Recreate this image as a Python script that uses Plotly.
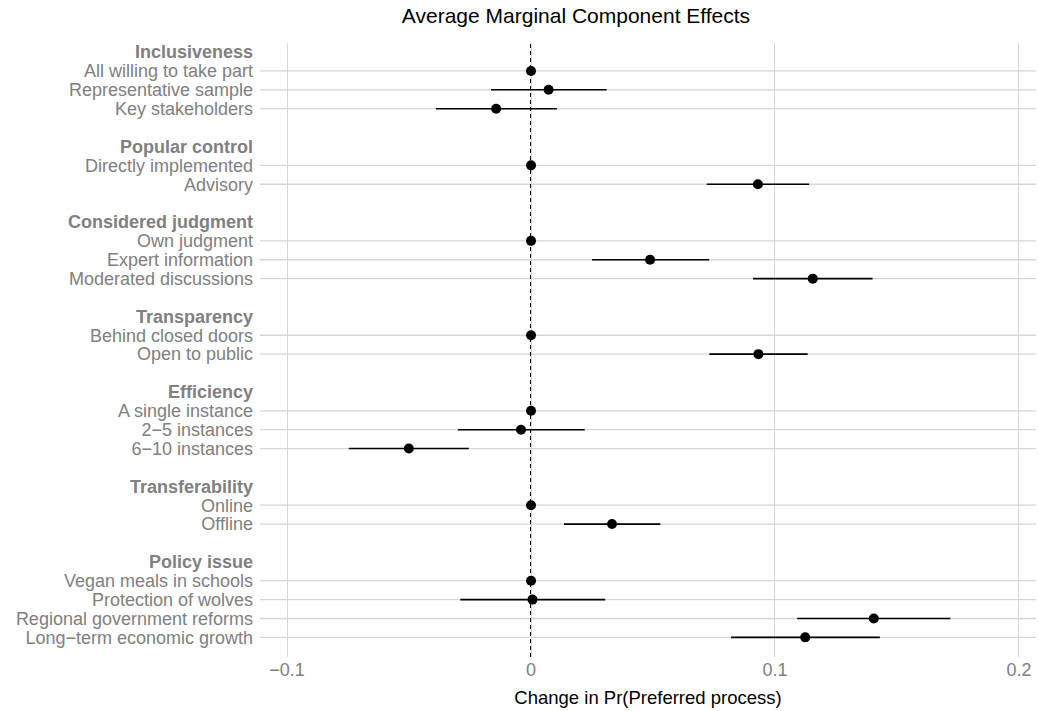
import plotly.graph_objects as go

title_text = "Average Marginal Component Effects"
x_title = "Change in Pr(Preferred process)"

groups = ["Inclusiveness", "Popular control", "Considered judgment",
          "Transparency", "Efficiency", "Transferability", "Policy issue"]

levels = [
    ["All willing to take part", "Representative sample", "Key stakeholders"],
    ["Directly implemented", "Advisory"],
    ["Own judgment", "Expert information", "Moderated discussions"],
    ["Behind closed doors", "Open to public"],
    ["A single instance", "2−5 instances", "6−10 instances"],
    ["Online", "Offline"],
    ["Vegan meals in schools", "Protection of wolves",
     "Regional government reforms", "Long−term economic growth"],
]

estimates = [
    [0.0, 0.0072, -0.0143],
    [0.0, 0.0930],
    [0.0, 0.0488, 0.1155],
    [0.0, 0.0932],
    [0.0, -0.0041, -0.0501],
    [0.0, 0.0332],
    [0.0, 0.0006, 0.1405, 0.1124],
]
lower = [
    [0.0, -0.0164, -0.0390],
    [0.0, 0.0720],
    [0.0, 0.0250, 0.0910],
    [0.0, 0.0731],
    [0.0, -0.0300, -0.0747],
    [0.0, 0.0135],
    [0.0, -0.0290, 0.1091, 0.0820],
]
upper = [
    [0.0, 0.0310, 0.0106],
    [0.0, 0.1140],
    [0.0, 0.0730, 0.1400],
    [0.0, 0.1134],
    [0.0, 0.0220, -0.0255],
    [0.0, 0.0530],
    [0.0, 0.0304, 0.1719, 0.1430],
]

x_ticks = [-0.1, 0.0, 0.1, 0.2]
x_tick_labels = ["−0.1", "0", "0.1", "0.2"]
x_range = [-0.1111, 0.2070]
ref_value = 0.0

# build row structure
row_labels = []
item_rows, item_x, item_minus, item_plus = [], [], [], []
for gi, g in enumerate(groups):
    row_labels.append("<b>" + g + "</b>")
    for li, lab in enumerate(levels[gi]):
        r = len(row_labels)
        row_labels.append(lab)
        item_rows.append(r)
        e = estimates[gi][li]
        item_x.append(e)
        item_minus.append(e - lower[gi][li])
        item_plus.append(upper[gi][li] - e)
    if gi < len(groups) - 1:
        row_labels.append("")

n_rows = len(row_labels)
row_idx = list(range(n_rows))

label_color = "#808080"
grid_color = "#d6d6d6"
font_family = "Liberation Sans, Arial, sans-serif"

fig = go.Figure()
fig.add_trace(go.Scatter(
    x=item_x, y=item_rows, mode="markers",
    marker=dict(color="black", size=10),
    error_x=dict(type="data", symmetric=False, array=item_plus,
                 arrayminus=item_minus, color="black", thickness=1.6, width=0),
    showlegend=False, hoverinfo="skip",
))

shapes = []
for r in item_rows:
    shapes.append(dict(type="line", xref="paper", x0=0, x1=1, yref="y", y0=r, y1=r,
                       line=dict(color=grid_color, width=1.3), layer="below"))
shapes.append(dict(type="line", xref="x", x0=ref_value, x1=ref_value, yref="paper", y0=0, y1=1,
                   line=dict(color="black", width=2, dash="4px,3px"), layer="between"))

fig.update_layout(
    width=1039, height=711,
    margin=dict(l=260, r=3, t=43, b=54),
    paper_bgcolor="white", plot_bgcolor="white",
    font=dict(family=font_family, size=18, color=label_color),
    title=dict(text=title_text, x=576 / 1039, xanchor="center", xref="container",
               y=1 - 16 / 711, yanchor="middle", yref="container",
               font=dict(size=21, color="black", family=font_family)),
    shapes=shapes,
    showlegend=False,
)

fig.update_xaxes(
    range=x_range, tickvals=x_ticks, ticktext=x_tick_labels,
    showgrid=True, gridcolor=grid_color, gridwidth=1.3,
    zeroline=False, showline=False, ticks="",
    tickfont=dict(size=18, color=label_color),
    title=dict(text=x_title, font=dict(size=18.5, color="black"), standoff=12),
)
fig.update_yaxes(
    range=[n_rows - 1 + 1.04, -0.48], tickvals=row_idx, ticktext=row_labels,
    showgrid=False, zeroline=False, showline=False, ticks="",
    ticklabelstandoff=6,
    tickfont=dict(size=18, color=label_color),
)

fig.write_html("out.html")
